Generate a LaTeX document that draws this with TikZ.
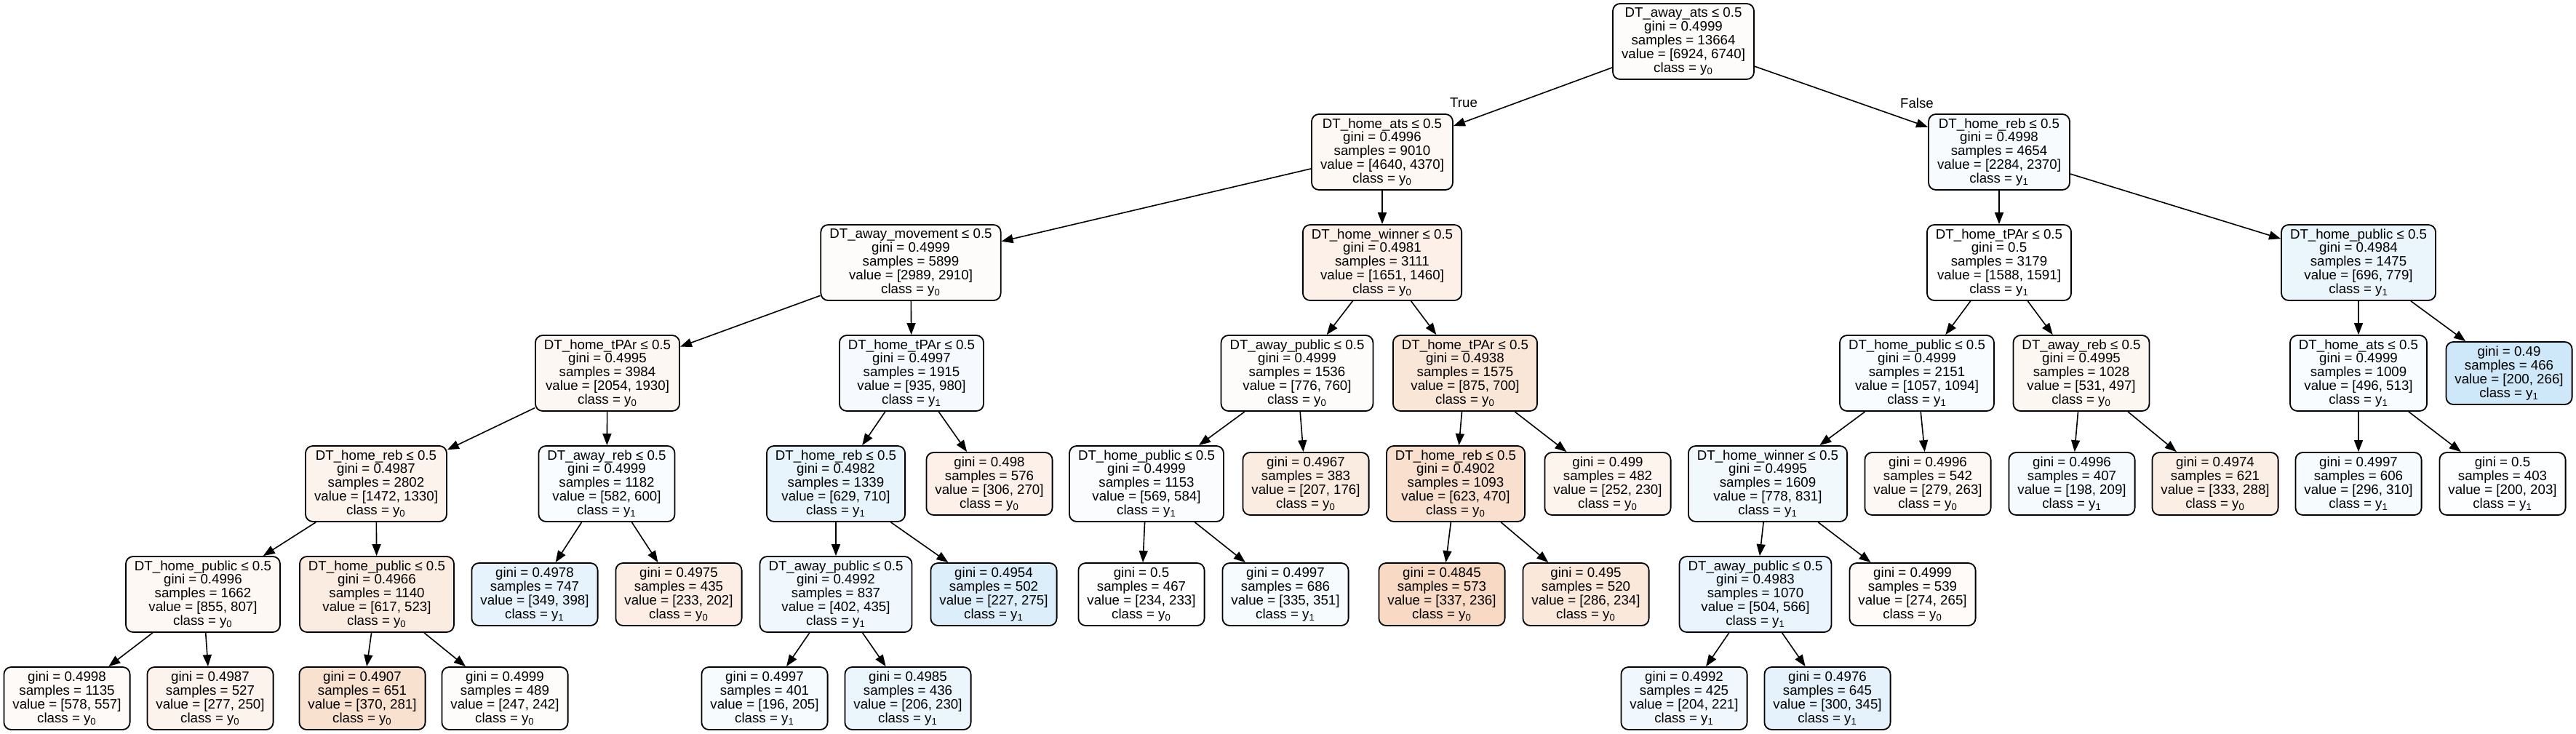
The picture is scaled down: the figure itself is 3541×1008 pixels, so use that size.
\documentclass[tikz,border=0pt]{standalone}
\usepackage{fontspec}
\usetikzlibrary{arrows.meta}
\newfontfamily\tfont{Liberation Sans}
\definecolor{cz}{RGB}{229,129,57}
\definecolor{co}{RGB}{57,157,229}
\newcommand\dtI[5]{#1\\gini = #2\\samples = #3\\value = [#4]\\class = #5}
\newcommand\dtL[4]{gini = #1\\samples = #2\\value = [#3]\\class = #4}
\newcommand\yz{y\textsubscript{0}}
\newcommand\yo{y\textsubscript{1}}
\tikzset{
  tn/.style={draw=black, line width=0.9pt, rounded corners=5pt, align=center,
    inner xsep=6pt, inner ysep=0pt, font={\tfont\fontsize{9.35pt}{9.45pt}\selectfont}},
  inn/.style={tn, minimum height=52pt},
  leaf/.style={tn, minimum height=43pt},
  arr/.style={draw=black, line width=0.8pt, -{Triangle[length=8pt,width=6pt]}},
  lbl/.style={font={\tfont\fontsize{9.35pt}{9.45pt}\selectfont}, inner sep=0pt}
}
\begin{document}
\begin{tikzpicture}[x=0.5pt,y=-0.5pt]
\useasboundingbox[fill=white] (0,0) rectangle (3541,1008);
% level 0
\node[inn, fill=cz!2.66] (n0) at (2314,57) {\dtI{DT\_away\_ats ≤ 0.5}{0.4999}{13664}{6924, 6740}{\yz}};
% level 1
\node[inn, fill=cz!5.82] (n1) at (1900,209) {\dtI{DT\_home\_ats ≤ 0.5}{0.4996}{9010}{4640, 4370}{\yz}};
\node[inn, fill=co!3.63] (n2) at (2748,209) {\dtI{DT\_home\_reb ≤ 0.5}{0.4998}{4654}{2284, 2370}{\yo}};
% level 2
\node[inn, fill=cz!2.64] (n3) at (1252,361) {\dtI{DT\_away\_movement ≤ 0.5}{0.4999}{5899}{2989, 2910}{\yz}};
\node[inn, fill=cz!11.57] (n4) at (1900,361) {\dtI{DT\_home\_winner ≤ 0.5}{0.4981}{3111}{1651, 1460}{\yz}};
\node[inn, fill=co!0.19] (n5) at (2748,361) {\dtI{DT\_home\_tPAr ≤ 0.5}{0.5}{3179}{1588, 1591}{\yo}};
\node[inn, fill=co!10.65] (n6) at (3242,361) {\dtI{DT\_home\_public ≤ 0.5}{0.4984}{1475}{696, 779}{\yo}};
% level 3
\node[inn, fill=cz!6.04] (n7) at (835,513) {\dtI{DT\_home\_tPAr ≤ 0.5}{0.4995}{3984}{2054, 1930}{\yz}};
\node[inn, fill=co!4.59] (n8) at (1253,513) {\dtI{DT\_home\_tPAr ≤ 0.5}{0.4997}{1915}{935, 980}{\yo}};
\node[inn, fill=cz!2.06] (n9) at (1783,513) {\dtI{DT\_away\_public ≤ 0.5}{0.4999}{1536}{776, 760}{\yz}};
\node[inn, fill=cz!20] (n10) at (2014,513) {\dtI{DT\_home\_tPAr ≤ 0.5}{0.4938}{1575}{875, 700}{\yz}};
\node[inn, fill=co!3.38] (n11) at (2635,513) {\dtI{DT\_home\_public ≤ 0.5}{0.4999}{2151}{1057, 1094}{\yo}};
\node[inn, fill=cz!6.40] (n12) at (2861,513) {\dtI{DT\_away\_reb ≤ 0.5}{0.4995}{1028}{531, 497}{\yz}};
\node[inn, fill=co!3.31] (n13) at (3242,513) {\dtI{DT\_home\_ats ≤ 0.5}{0.4999}{1009}{496, 513}{\yo}};
\node[leaf, fill=co!24.81] (n14) at (3449,513) {\dtL{0.49}{466}{200, 266}{\yo}};
% level 4
\node[inn, fill=cz!9.65] (n15) at (517,665) {\dtI{DT\_home\_reb ≤ 0.5}{0.4987}{2802}{1472, 1330}{\yz}};
\node[inn, fill=co!3.0] (n16) at (834,665) {\dtI{DT\_away\_reb ≤ 0.5}{0.4999}{1182}{582, 600}{\yo}};
\node[inn, fill=co!11.41] (n17) at (1149,665) {\dtI{DT\_home\_reb ≤ 0.5}{0.4982}{1339}{629, 710}{\yo}};
\node[leaf, fill=cz!11.76] (n18) at (1360,665) {\dtL{0.498}{576}{306, 270}{\yz}};
\node[inn, fill=co!2.57] (n19) at (1576,665) {\dtI{DT\_home\_public ≤ 0.5}{0.4999}{1153}{569, 584}{\yo}};
\node[leaf, fill=cz!14.98] (n20) at (1795,665) {\dtL{0.4967}{383}{207, 176}{\yz}};
\node[inn, fill=cz!24.56] (n21) at (2001,665) {\dtI{DT\_home\_reb ≤ 0.5}{0.4902}{1093}{623, 470}{\yz}};
\node[leaf, fill=cz!8.73] (n22) at (2210,665) {\dtL{0.499}{482}{252, 230}{\yz}};
\node[inn, fill=co!6.38] (n23) at (2430,665) {\dtI{DT\_home\_winner ≤ 0.5}{0.4995}{1609}{778, 831}{\yo}};
\node[leaf, fill=cz!5.73] (n24) at (2650,665) {\dtL{0.4996}{542}{279, 263}{\yz}};
\node[leaf, fill=co!5.26] (n25) at (2848,665) {\dtL{0.4996}{407}{198, 209}{\yo}};
\node[leaf, fill=cz!13.51] (n26) at (3045,665) {\dtL{0.4974}{621}{333, 288}{\yz}};
\node[leaf, fill=co!4.52] (n27) at (3242,665) {\dtL{0.4997}{606}{296, 310}{\yo}};
\node[leaf, fill=co!1.48] (n28) at (3440,665) {\dtL{0.5}{403}{200, 203}{\yo}};
% level 5
\node[inn, fill=cz!5.61] (n29) at (279,817) {\dtI{DT\_home\_public ≤ 0.5}{0.4996}{1662}{855, 807}{\yz}};
\node[inn, fill=cz!15.24] (n30) at (518,817) {\dtI{DT\_home\_public ≤ 0.5}{0.4966}{1140}{617, 523}{\yz}};
\node[leaf, fill=co!12.31] (n31) at (735,817) {\dtL{0.4978}{747}{349, 398}{\yo}};
\node[leaf, fill=cz!13.30] (n32) at (933,817) {\dtL{0.4975}{435}{233, 202}{\yz}};
\node[inn, fill=co!7.59] (n33) at (1149,817) {\dtI{DT\_away\_public ≤ 0.5}{0.4992}{837}{402, 435}{\yo}};
\node[leaf, fill=co!17.45] (n34) at (1366,817) {\dtL{0.4954}{502}{227, 275}{\yo}};
\node[leaf, fill=cz!0.43] (n35) at (1569,817) {\dtL{0.5}{467}{234, 233}{\yz}};
\node[leaf, fill=co!4.56] (n36) at (1767,817) {\dtL{0.4997}{686}{335, 351}{\yo}};
\node[leaf, fill=cz!29.97] (n37) at (1982,817) {\dtL{0.4845}{573}{337, 236}{\yz}};
\node[leaf, fill=cz!18.18] (n38) at (2180,817) {\dtL{0.495}{520}{286, 234}{\yz}};
\node[inn, fill=co!10.95] (n39) at (2413,817) {\dtI{DT\_away\_public ≤ 0.5}{0.4983}{1070}{504, 566}{\yo}};
\node[leaf, fill=cz!3.28] (n40) at (2629,817) {\dtL{0.4999}{539}{274, 265}{\yz}};
% level 6
\node[leaf, fill=cz!3.63] (n41) at (92,960) {\dtL{0.4998}{1135}{578, 557}{\yz}};
\node[leaf, fill=cz!9.75] (n42) at (289,960) {\dtL{0.4987}{527}{277, 250}{\yz}};
\node[leaf, fill=cz!24.05] (n43) at (498,960) {\dtL{0.4907}{651}{370, 281}{\yz}};
\node[leaf, fill=cz!2.02] (n44) at (694,960) {\dtL{0.4999}{489}{247, 242}{\yz}};
\node[leaf, fill=co!4.39] (n45) at (1051,960) {\dtL{0.4997}{401}{196, 205}{\yo}};
\node[leaf, fill=co!10.43] (n46) at (1248,960) {\dtL{0.4985}{436}{206, 230}{\yo}};
\node[leaf, fill=co!7.69] (n47) at (2315,960) {\dtL{0.4992}{425}{204, 221}{\yo}};
\node[leaf, fill=co!13.04] (n48) at (2512,960) {\dtL{0.4976}{645}{300, 345}{\yo}};
% edge labels
\node[lbl] (tl) at (2012,141) {True};
\node[lbl] (fl) at (2635,142) {False};
% edges
\foreach \a/\b in {n0/n1,n0/n2,n1/n3,n1/n4,n2/n5,n2/n6,n3/n7,n3/n8,n4/n9,n4/n10,
  n5/n11,n5/n12,n6/n13,n6/n14,n7/n15,n7/n16,n8/n17,n8/n18,n9/n19,n9/n20,
  n10/n21,n10/n22,n11/n23,n11/n24,n12/n25,n12/n26,n13/n27,n13/n28,
  n15/n29,n15/n30,n16/n31,n16/n32,n17/n33,n17/n34,n19/n35,n19/n36,
  n21/n37,n21/n38,n23/n39,n23/n40,n29/n41,n29/n42,n30/n43,n30/n44,
  n33/n45,n33/n46,n39/n47,n39/n48}
  {\draw[arr] (\a) -- (\b);}
\end{tikzpicture}
\end{document}
